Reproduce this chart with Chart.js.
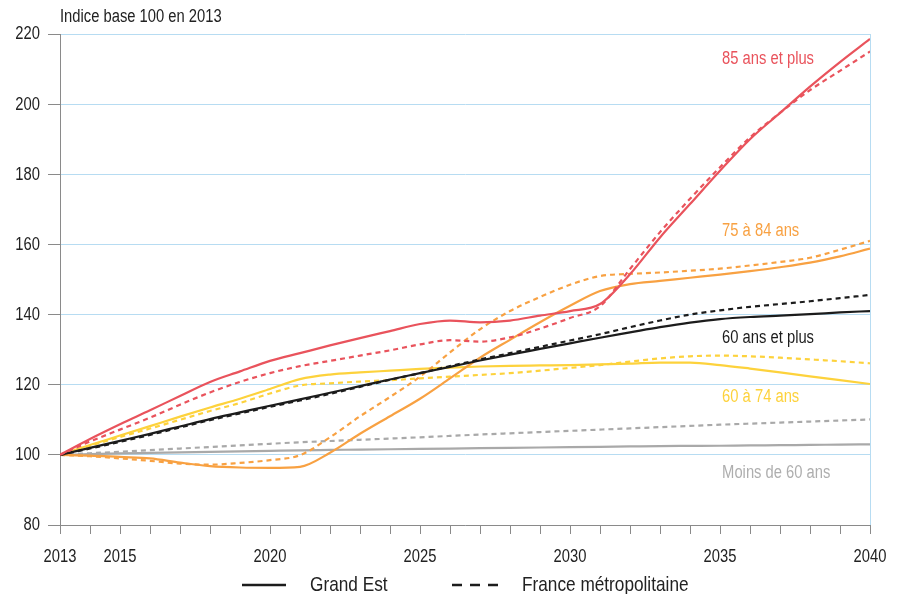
<!DOCTYPE html>
<html>
<head>
<meta charset="utf-8">
<script src="https://cdn.jsdelivr.net/npm/chart.js@4.4.1/dist/chart.umd.min.js"></script>
<style>
  html,body{margin:0;padding:0;background:#fff;}
  #wrap{width:899px;height:594px;position:relative;}
</style>
</head>
<body>
<div id="wrap"><canvas id="c" width="899" height="594"></canvas></div>
<script>
// ---- Data ----
const years = [2013,2014,2015,2016,2017,2018,2019,2020,2021,2022,2023,2024,2025,2026,2027,2028,2029,2030,2031,2032,2033,2034,2035,2036,2037,2038,2039,2040];
const xTickLabels = [2013,2015,2020,2025,2030,2035,2040];
const yTicks = [80,100,120,140,160,180,200,220];

const ge85 = [100,104.5,108.7,112.7,116.8,120.8,123.8,126.8,129,131.2,133.3,135.3,137.3,138.3,137.8,138.3,139.7,141,143,151.5,162,171.5,181,190,197.5,205,212,218.6];
const fm85 = [100,103.8,107.2,110.6,114.3,117.8,120.8,123.3,125.3,126.8,128.3,129.8,131.5,132.7,132.3,133.5,136,139,142.4,153,163.5,173,182,190.5,197.5,204,209.5,215];
const ge7584 = [100,99.8,99.4,99,97.8,96.8,96.4,96.3,96.6,100.6,106,111,116,121.8,127.7,132.8,137.8,142.5,146.7,148.7,149.6,150.5,151.4,152.4,153.5,154.8,156.6,158.8];
const fm7584 = [100,99.6,99,98.3,97.5,97.2,97.7,98.5,99.9,105,111,116.5,122.3,129.2,135.8,141,145,148.5,151,151.6,152,152.5,153.1,154,155,156.2,158.5,161];
const ge60p = [100,102,104,106,108.1,110.2,112.1,114,115.8,117.7,119.6,121.5,123.3,125.1,126.9,128.6,130.2,131.8,133.4,134.9,136.4,137.7,138.7,139.3,139.7,140.1,140.6,141];
const fm60p = [100,101.8,103.7,105.7,107.8,109.9,111.8,113.7,115.5,117.4,119.4,121.4,123.3,125.3,127.2,129,130.8,132.6,134.4,136.4,138.3,140,141.2,142.2,143,143.8,144.7,145.6];
const ge6074 = [100,102.8,105.5,108.2,110.9,113.5,116,118.8,121.6,122.9,123.5,124,124.5,124.9,125.2,125.4,125.5,125.6,125.8,126,126.3,126.3,125.6,124.6,123.5,122.4,121.3,120.2];
const fm6074 = [100,102.6,105.1,107.5,110,112.5,114.8,117.5,119.8,120.4,120.9,121.3,121.8,122.3,122.8,123.3,124,124.8,125.6,126.6,127.5,128.1,128.3,128.1,127.7,127.2,126.7,126.1];
const geU60 = [100,100.2,100.4,100.55,100.7,100.85,101,101.15,101.3,101.4,101.5,101.6,101.7,101.8,101.9,102,102.1,102.2,102.3,102.4,102.5,102.55,102.6,102.7,102.75,102.85,102.9,103];
const fmU60 = [100,100.45,100.9,101.35,101.8,102.25,102.7,103.15,103.6,103.95,104.3,104.65,105,105.4,105.8,106.15,106.5,106.85,107.2,107.55,107.9,108.25,108.6,108.9,109.2,109.5,109.8,110.1];

const seriesLabels = ["85 ans et plus","75 à 84 ans","60 ans et plus","60 à 74 ans","Moins de 60 ans"];
const legendLabels = ["Grand Est","France métropolitaine"];
const yTitle = "Indice base 100 en 2013";

// ---- Styles ----
const FONT = "'Liberation Sans',Arial,sans-serif";
const NARROW = 0.82; // horizontal condensing to mimic a narrow face
const C = {red:'#e9535c', orange:'#f8a142', yellow:'#fdd23c', black:'#1c1c1c', gray:'#a9a9a9', grayTxt:'#aeaeae', grid:'#b7dcf2', axis:'#8a8a8a', text:'#222'};
const DASH = [5,4];
const labelPos = [[2035.07,213,C.red],[2035.07,163.7,C.orange],[2035.07,133.2,C.black],[2035.07,116.4,C.yellow],[2035.07,94.7,C.grayTxt]];

function pts(arr){ return years.map((y,i)=>({x:y,y:arr[i]})); }
function ds(arr,color,dashed,order){
  return {data:pts(arr), borderColor:color, borderWidth:2.2, borderDash:dashed?DASH:[], pointRadius:0,
          cubicInterpolationMode:'monotone', fill:false, order:order, borderCapStyle:'butt'};
}

const datasets = [
  ds(fmU60,C.gray,true,10), ds(geU60,C.gray,false,9),
  ds(fm6074,C.yellow,true,8), ds(ge6074,C.yellow,false,7),
  ds(fm7584,C.orange,true,6), ds(ge7584,C.orange,false,5),
  ds(fm60p,C.black,true,4), ds(ge60p,C.black,false,3),
  ds(fm85,C.red,true,2), ds(ge85,C.red,false,1)
];

function txt(ctx, s, x, y, align, size, color){
  ctx.save();
  ctx.translate(x, y);
  ctx.scale(NARROW, 1);
  ctx.font = size + "px " + FONT;
  ctx.textAlign = align;
  ctx.textBaseline = 'middle';
  ctx.fillStyle = color;
  ctx.fillText(s, 0, 0);
  ctx.restore();
}

const textPlugin = {
  id:'texts',
  afterDraw(chart){
    const ctx = chart.ctx, xs = chart.scales.x, ys = chart.scales.y, ca = chart.chartArea;
    // tick labels
    yTicks.forEach(v=> txt(ctx, String(v), ca.left - 20, ys.getPixelForValue(v)+0.5, 'right', 18, C.text));
    xTickLabels.forEach(v=> txt(ctx, String(v), xs.getPixelForValue(v), ca.bottom + 32, 'center', 18, C.text));
    // axis title
    txt(ctx, yTitle, ca.left, 17, 'left', 18, C.text);
    // series labels
    labelPos.forEach((p,i)=> txt(ctx, seriesLabels[i], xs.getPixelForValue(p[0]), ys.getPixelForValue(p[1]), 'left', 18, p[2]));
    // legend
    const ly = 585;
    ctx.save();
    ctx.strokeStyle = C.black; ctx.lineWidth = 2.4;
    ctx.beginPath(); ctx.setLineDash([]); ctx.moveTo(242,ly); ctx.lineTo(286,ly); ctx.stroke();
    ctx.beginPath(); ctx.setLineDash([10,8]); ctx.moveTo(452,ly); ctx.lineTo(500,ly); ctx.stroke();
    ctx.restore();
    txt(ctx, legendLabels[0], 310, ly, 'left', 21, C.text);
    txt(ctx, legendLabels[1], 522, ly, 'left', 21, C.text);
  }
};

new Chart(document.getElementById('c'), {
  type:'line',
  data:{datasets},
  options:{
    responsive:false, animation:false, devicePixelRatio:1,
    layout:{padding:{top:34,right:29,bottom:24,left:0}},
    plugins:{legend:{display:false}, tooltip:{enabled:false}},
    scales:{
      x:{
        type:'linear', min:2013, max:2040,
        afterFit(s){ s.height = 45; },
        afterBuildTicks(s){ s.ticks = years.map(v=>({value:v})); },
        ticks:{autoSkip:false, maxRotation:0, padding:12, color:'rgba(0,0,0,0)', font:{family:FONT,size:15},
               callback:(v)=> xTickLabels.includes(v) ? String(v) : ''},
        grid:{drawOnChartArea:true, color:(c)=> (c.tick && c.tick.value===2040) ? C.grid : 'rgba(0,0,0,0)',
              tickColor:C.axis, tickLength:9, lineWidth:1},
        border:{color:C.axis, width:1}
      },
      y:{
        min:80, max:220,
        afterFit(s){ s.width = 60; },
        afterBuildTicks(s){ s.ticks = yTicks.map(v=>({value:v})); },
        ticks:{padding:8, color:'rgba(0,0,0,0)', font:{family:FONT,size:15}},
        grid:{color:C.grid, tickColor:C.axis, tickLength:12, lineWidth:1},
        border:{color:C.axis, width:1}
      }
    }
  },
  plugins:[textPlugin]
});
</script>
</body>
</html>
